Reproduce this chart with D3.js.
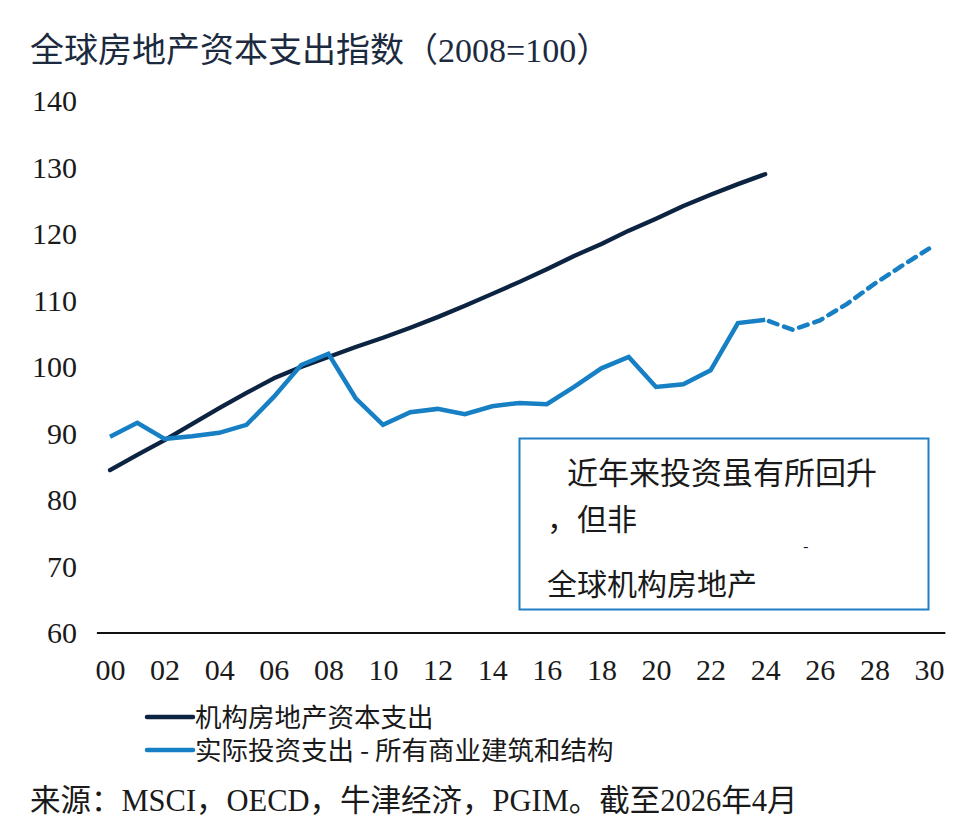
<!DOCTYPE html>
<html>
<head>
<meta charset="utf-8">
<script src="https://cdn.jsdelivr.net/npm/d3@7"></script>
<style>
  html, body { margin: 0; padding: 0; background: #fff; }
  svg { display: block; }
  .serifcjk { font-family: "Liberation Serif", "Noto Sans CJK SC", serif; }
  .cjk { font-family: "Noto Sans CJK SC", "Liberation Serif", sans-serif; }
</style>
</head>
<body>
<svg id="chart" width="962" height="839"></svg>
<script>
// ---- data ----
const years = [2000,2001,2002,2003,2004,2005,2006,2007,2008,2009,2010,2011,2012,2013,2014,2015,2016,2017,2018,2019,2020,2021,2022,2023,2024];
const capexIndex = [84.5,86.8,89.0,91.4,93.8,96.1,98.3,100.0,101.5,103.0,104.4,105.9,107.5,109.2,111.0,112.8,114.7,116.7,118.5,120.5,122.3,124.2,125.9,127.5,129.0];
const investActual = [89.5,91.6,89.2,89.6,90.1,91.3,95.5,100.3,102.0,95.3,91.3,93.2,93.7,92.9,94.1,94.6,94.4,97.0,99.8,101.5,97.0,97.4,99.5,106.6,107.1];
const forecastYears = [2024,2025,2026,2027,2028,2029,2030];
const investForecast = [107.1,105.6,107.0,109.5,112.5,115.2,117.8];
const yTicks = [60,70,80,90,100,110,120,130,140];
const xTickYears = [2000,2002,2004,2006,2008,2010,2012,2014,2016,2018,2020,2022,2024,2026,2028,2030];
const xTickLabels = ["00","02","04","06","08","10","12","14","16","18","20","22","24","26","28","30"];
const seriesNames = ["机构房地产资本支出", "实际投资支出 - 所有商业建筑和结构"];
const titleText = "全球房地产资本支出指数（2008=100）";
const sourceText = "来源：MSCI，OECD，牛津经济，PGIM。截至2026年4月";
const noteLines = ["近年来投资虽有所回升", "，但非", "-", "全球机构房地产"];

const darkColor = "#0c2341";
const lightColor = "#1780c4";
const textColor = "#1a1a1a";

const svg = d3.select("#chart");

const x = d3.scaleLinear().domain([2000, 2030]).range([110, 929]);
const y = d3.scaleLinear().domain([60, 140]).range([633, 101]);

// title
svg.append("text")
  .attr("class", "serifcjk")
  .attr("x", 30).attr("y", 62)
  .attr("font-size", 34)
  .attr("fill", "#1c2a40")
  .text(titleText);

// y axis
const yAxis = svg.append("g")
  .attr("transform", "translate(77,0)")
  .call(d3.axisLeft(y).tickValues(yTicks).tickSize(0).tickPadding(0));
yAxis.select(".domain").remove();
yAxis.selectAll("text")
  .attr("font-size", 30)
  .attr("fill", textColor)
  .attr("font-family", "Liberation Serif");

// x axis
const xAxis = svg.append("g")
  .attr("transform", "translate(0,633)")
  .call(d3.axisBottom(x).tickValues(xTickYears)
    .tickFormat((d, i) => xTickLabels[i]).tickSize(0).tickPadding(0));
xAxis.select(".domain").remove();
xAxis.selectAll("text")
  .attr("dy", null)
  .attr("y", 47)
  .attr("font-size", 30)
  .attr("fill", textColor)
  .attr("font-family", "Liberation Serif");

// baseline (x axis line)
svg.append("line")
  .attr("x1", x(1999.52)).attr("x2", x(2030.6))
  .attr("y1", y(60)).attr("y2", y(60))
  .attr("stroke", "#111").attr("stroke-width", 2);

// lines
const line = d3.line().x(d => x(d[0])).y(d => y(d[1]));

svg.append("path")
  .datum(years.map((yr, i) => [yr, capexIndex[i]]))
  .attr("d", line)
  .attr("fill", "none")
  .attr("stroke", darkColor)
  .attr("stroke-width", 4.3)
  .attr("stroke-linejoin", "round")
  .attr("stroke-linecap", "round");

svg.append("path")
  .datum(years.map((yr, i) => [yr, investActual[i]]))
  .attr("d", line)
  .attr("fill", "none")
  .attr("stroke", lightColor)
  .attr("stroke-width", 4.5)
  .attr("stroke-linejoin", "miter");

svg.append("path")
  .datum(forecastYears.map((yr, i) => [yr, investForecast[i]]))
  .attr("d", line)
  .attr("fill", "none")
  .attr("stroke", lightColor)
  .attr("stroke-width", 4.5)
  .attr("stroke-dasharray", "9,7")
  .attr("stroke-dashoffset", -4)
  .attr("stroke-linecap", "round");

// annotation box
const note = svg.append("g");
note.append("rect")
  .attr("x", 519.5).attr("y", 438.5)
  .attr("width", 409).attr("height", 171)
  .attr("fill", "#fff")
  .attr("stroke", "#1f7fc2")
  .attr("stroke-width", 2);
const notePos = [[567, 484], [547, 530], [803, 552], [547, 595]];
const noteSize = [31, 30, 16, 30];
noteLines.forEach((t, i) => {
  note.append("text")
    .attr("class", "cjk")
    .attr("x", notePos[i][0]).attr("y", notePos[i][1])
    .attr("font-size", noteSize[i])
    .attr("fill", textColor)
    .text(t);
});

// legend
const legendColors = [darkColor, lightColor];
seriesNames.forEach((name, i) => {
  const ly = 717 + i * 33;
  svg.append("line")
    .attr("x1", 147).attr("x2", 193)
    .attr("y1", ly).attr("y2", ly)
    .attr("stroke", legendColors[i])
    .attr("stroke-width", 4.5)
    .attr("stroke-linecap", "round");
  svg.append("text")
    .attr("class", "cjk")
    .attr("x", 195).attr("y", ly + 10)
    .attr("font-size", 26.5)
    .attr("fill", textColor)
    .text(name);
});

// source
svg.append("text")
  .attr("class", "serifcjk")
  .attr("x", 30).attr("y", 811)
  .attr("font-size", 30.5)
  .attr("fill", textColor)
  .text(sourceText);
</script>
</body>
</html>
